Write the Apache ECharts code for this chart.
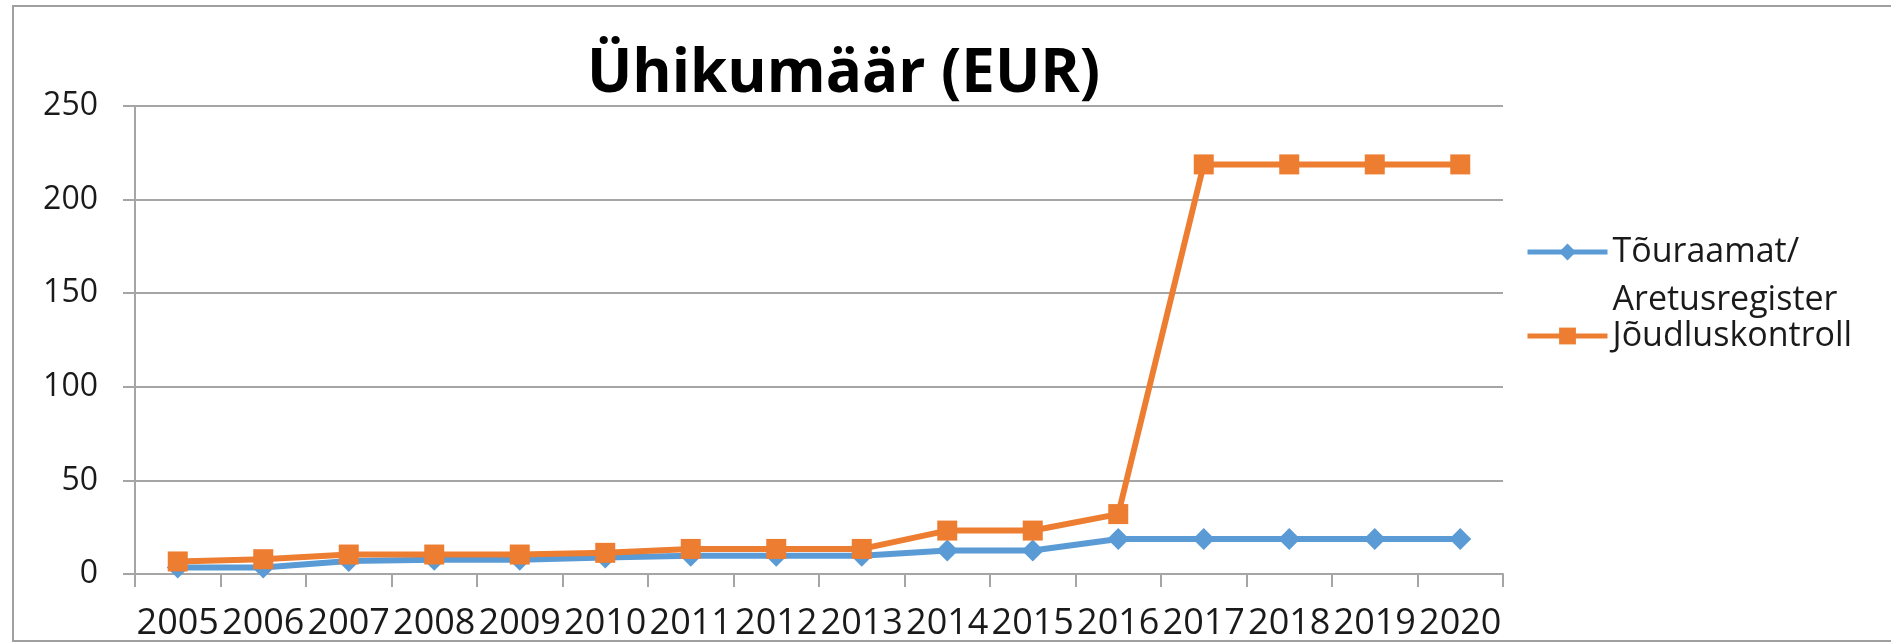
<!DOCTYPE html>
<html>
<head>
<meta charset="utf-8">
<style>
html,body{margin:0;padding:0;background:#fff;}
#chart{width:1891px;height:642px;}
</style>
<script src="https://cdn.jsdelivr.net/npm/echarts@6.0.0/dist/echarts.min.js"></script>
</head>
<body>
<div id="chart"></div>
<script>
const categories = ['2005','2006','2007','2008','2009','2010','2011','2012','2013','2014','2015','2016','2017','2018','2019','2020'];
const seriesNames = ['Tõuraamat/\nAretusregister', 'Jõudluskontroll'];
const touraamat = [3.5, 3.5, 7.0, 7.6, 7.6, 8.8, 9.7, 9.7, 9.7, 12.6, 12.6, 18.7, 18.7, 18.7, 18.7, 18.7];
const joudluskontroll = [6.7, 7.9, 10.4, 10.4, 10.4, 11.3, 13.4, 13.4, 13.4, 23.2, 23.2, 32.0, 218.8, 218.8, 218.8, 218.8];
const yTicks = {min: 0, max: 250, interval: 50};
const titleText = 'Ühikumäär (EUR)';

const FONT = 'Open Sans';
const GRAY = '#a5a5a5';
const chart = echarts.init(document.getElementById('chart'), null, {renderer: 'canvas'});
chart.setOption({
  animation: false,
  backgroundColor: '#fff',
  title: {
    text: titleText,
    left: 587, top: 45, padding: 0,
    textStyle: {fontFamily: FONT, fontWeight: 'bold', fontSize: 60, lineHeight: 60, color: '#000'}
  },
  graphic: [{
    type: 'rect', silent: true, z: -1,
    shape: {x: 13, y: 6, width: 1900, height: 635},
    style: {fill: null, stroke: '#a0a0a0', lineWidth: 2}
  }],
  legend: [{
    data: [seriesNames[0]],
    formatter: function (name) { return ' \n' + name; },
    left: 1525, top: 180, padding: 0, orient: 'vertical',
    itemWidth: 80, itemHeight: 21,
    lineStyle: {width: 5},
    textStyle: {fontFamily: FONT, fontSize: 34, lineHeight: 48, color: '#1a1a1a'}
  }, {
    data: [seriesNames[1]],
    left: 1525, top: 312, padding: 0, orient: 'vertical',
    itemWidth: 80, itemHeight: 21,
    lineStyle: {width: 5},
    textStyle: {fontFamily: FONT, fontSize: 34, lineHeight: 48, color: '#1a1a1a'}
  }],
  grid: {left: 135, right: 388, top: 106, bottom: 65, containLabel: false},
  xAxis: {
    type: 'category', data: categories, boundaryGap: true,
    axisLine: {show: true, lineStyle: {color: GRAY, width: 2}},
    axisTick: {show: true, length: 13, lineStyle: {color: GRAY, width: 2}},
    axisLabel: {interval: 0, margin: 32, fontFamily: FONT, fontSize: 36, color: '#1a1a1a'},
    splitLine: {show: false}
  },
  yAxis: {
    type: 'value', min: yTicks.min, max: yTicks.max, interval: yTicks.interval,
    axisLine: {show: true, lineStyle: {color: GRAY, width: 2}},
    axisTick: {show: true, length: 12, lineStyle: {color: GRAY, width: 2}},
    axisLabel: {margin: 37, fontFamily: FONT, fontSize: 32, color: '#1a1a1a'},
    splitLine: {show: true, lineStyle: {color: GRAY, width: 2}}
  },
  series: [{
    name: seriesNames[0], type: 'line', data: touraamat,
    symbol: 'diamond', symbolSize: 22, showAllSymbol: true,
    lineStyle: {color: '#5B9BD5', width: 6},
    itemStyle: {color: '#5B9BD5'}
  }, {
    name: seriesNames[1], type: 'line', data: joudluskontroll,
    symbol: 'rect', symbolSize: 20, showAllSymbol: true,
    lineStyle: {color: '#ED7D31', width: 6},
    itemStyle: {color: '#ED7D31'}
  }]
});
</script>
</body>
</html>
